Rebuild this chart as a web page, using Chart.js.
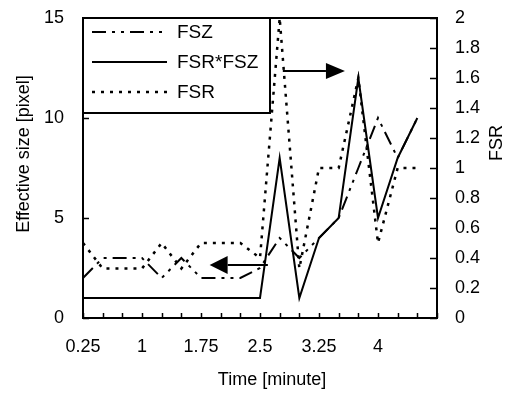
<!DOCTYPE html>
<html>
<head>
<meta charset="utf-8">
<script src="https://cdn.jsdelivr.net/npm/chart.js@4.4.1/dist/chart.umd.min.js"></script>
<style>
  html, body { margin: 0; padding: 0; background: #fff; }
  #wrap { width: 512px; height: 393px; }
</style>
</head>
<body>
<div id="wrap"><canvas id="sizeChart" width="512" height="393"></canvas></div>
<script>
// time in minutes
const times = [0.25, 0.5, 0.75, 1, 1.25, 1.5, 1.75, 2, 2.25, 2.5, 2.75, 3, 3.25, 3.5, 3.75, 4, 4.25, 4.5];
const fsz = [2, 3, 3, 3, 2, 3, 2, 2, 2, 2.5, 4, 3, 4, 5, 7.5, 10, 8, 10];
const fsrFsz = [1, 1, 1, 1, 1, 1, 1, 1, 1, 1, 8, 1, 4, 5, 12, 5, 8, 10];
const fsr = [0.5, 0.33, 0.33, 0.33, 0.5, 0.33, 0.5, 0.5, 0.5, 0.4, 2, 0.33, 1, 1, 1.6, 0.5, 1, 1];
const xTickLabels = [0.25, 1, 1.75, 2.5, 3.25, 4];

const FONT = "'Liberation Sans', Arial, sans-serif";

const toPoints = (vals) => vals.map((v, i) => ({ x: times[i], y: v }));

// ticks pointing into the plot, frame top edge, titles, arrows, legend box
const decorations = {
  id: 'decorations',
  afterDatasetsDraw(chart) {
    const ctx = chart.ctx;
    const { left, right, top, bottom } = chart.chartArea;
    const sx = chart.scales.x, sy = chart.scales.y, sy1 = chart.scales.y1;

    ctx.save();
    ctx.strokeStyle = '#000';
    ctx.fillStyle = '#000';
    ctx.lineWidth = 2;

    // top frame line
    ctx.beginPath();
    ctx.moveTo(left, top);
    ctx.lineTo(right, top);
    ctx.stroke();

    ctx.lineWidth = 1.5;
    ctx.beginPath();
    sx.ticks.forEach((t) => {
      const px = Math.round(sx.getPixelForValue(t.value)) + 0.5;
      ctx.moveTo(px, bottom);
      ctx.lineTo(px, bottom - 5);
    });
    sy.ticks.forEach((t) => {
      const py = Math.round(sy.getPixelForValue(t.value)) + 0.5;
      ctx.moveTo(left, py);
      ctx.lineTo(left + 6, py);
    });
    sy1.ticks.forEach((t) => {
      const py = Math.round(sy1.getPixelForValue(t.value)) + 0.5;
      ctx.moveTo(right, py);
      ctx.lineTo(right - 7, py);
    });
    ctx.stroke();

    // arrows, given in minutes / left-axis units
    const arrow = (x0, x1, yv, headLen, headHalf) => {
      const a = sx.getPixelForValue(x0);
      const b = sx.getPixelForValue(x1);
      const py = sy.getPixelForValue(yv);
      const dir = Math.sign(b - a);
      ctx.lineWidth = 2;
      ctx.beginPath();
      ctx.moveTo(a, py);
      ctx.lineTo(b - dir * headLen, py);
      ctx.stroke();
      ctx.beginPath();
      ctx.moveTo(b, py);
      ctx.lineTo(b - dir * headLen, py - headHalf);
      ctx.lineTo(b - dir * headLen, py + headHalf);
      ctx.closePath();
      ctx.fill();
    };
    arrow(2.79, 3.58, 12.35, 19, 8);
    arrow(2.6, 1.86, 2.65, 18, 9);

    // legend box
    const bx = left, by = top, bw = 187, bh = 95;
    ctx.fillStyle = '#fff';
    ctx.fillRect(bx, by, bw, bh);
    ctx.lineWidth = 2;
    ctx.strokeRect(bx, by, bw, bh);
    ctx.font = '19px ' + FONT;
    ctx.textBaseline = 'middle';
    ctx.textAlign = 'left';
    chart.data.datasets.slice().reverse().forEach((ds, i) => {
      const ly = by + 14 + i * 30;
      ctx.save();
      ctx.strokeStyle = ds.borderColor;
      ctx.lineWidth = ds.borderWidth;
      ctx.setLineDash(ds.borderDash || []);
      ctx.beginPath();
      ctx.moveTo(bx + 9, ly);
      ctx.lineTo(bx + 84, ly);
      ctx.stroke();
      ctx.restore();
      ctx.fillStyle = '#000';
      ctx.fillText(ds.label, bx + 94, ly + 1);
    });

    // axis titles
    ctx.font = '18px ' + FONT;
    ctx.textAlign = 'center';
    ctx.fillText('Time [minute]', 272, 380);
    ctx.save();
    ctx.translate(24, 154);
    ctx.rotate(-Math.PI / 2);
    ctx.fillText('Effective size [pixel]', 0, 0);
    ctx.restore();
    ctx.save();
    ctx.translate(497, 143);
    ctx.rotate(-Math.PI / 2);
    ctx.fillText('FSR', 0, 0);
    ctx.restore();

    ctx.restore();
  }
};

const tickFont = { family: FONT, size: 18 };

// fixed axis boxes so the plot area sits where the frame should be
const fixY = (w) => (s) => { s.width = w; s.paddingTop = 0; s.paddingBottom = 0; };

new Chart(document.getElementById('sizeChart').getContext('2d'), {
  type: 'line',
  data: {
    datasets: [
      {
        label: 'FSR',
        data: toPoints(fsr),
        yAxisID: 'y1',
        borderColor: '#000',
        borderWidth: 2.5,
        borderDash: [3, 6],
        pointRadius: 0,
        tension: 0,
        fill: false
      },
      {
        label: 'FSR*FSZ',
        data: toPoints(fsrFsz),
        yAxisID: 'y',
        borderColor: '#000',
        borderWidth: 2,
        pointRadius: 0,
        tension: 0,
        fill: false
      },
      {
        label: 'FSZ',
        data: toPoints(fsz),
        yAxisID: 'y',
        borderColor: '#000',
        borderWidth: 2,
        borderDash: [14, 6, 3, 6, 3, 6],
        pointRadius: 0,
        tension: 0,
        fill: false
      }
    ]
  },
  options: {
    responsive: false,
    animation: false,
    layout: { padding: { top: 18, left: 0, right: 0, bottom: 0 } },
    plugins: {
      legend: { display: false },
      tooltip: { enabled: false }
    },
    scales: {
      x: {
        type: 'linear',
        min: 0.25,
        max: 4.75,
        grid: { display: false, drawTicks: false },
        border: { color: '#000', width: 2 },
        ticks: {
          stepSize: 0.25,
          autoSkip: false,
          maxRotation: 0,
          padding: 18,
          color: '#000',
          font: tickFont,
          callback: (v) => (xTickLabels.includes(v) ? String(v) : '')
        },
        afterFit: (s) => { s.height = 75; s.paddingLeft = 0; s.paddingRight = 0; }
      },
      y: {
        position: 'left',
        min: 0,
        max: 15,
        grid: { display: false, drawTicks: false },
        border: { color: '#000', width: 2 },
        ticks: { stepSize: 5, padding: 19, color: '#000', font: tickFont },
        afterFit: fixY(83)
      },
      y1: {
        position: 'right',
        min: 0,
        max: 2,
        grid: { display: false, drawTicks: false },
        border: { color: '#000', width: 2 },
        ticks: {
          stepSize: 0.2,
          padding: 18,
          color: '#000',
          font: tickFont,
          callback: (v) => String(+v.toFixed(1))
        },
        afterFit: fixY(75)
      }
    }
  },
  plugins: [decorations]
});
</script>
</body>
</html>
